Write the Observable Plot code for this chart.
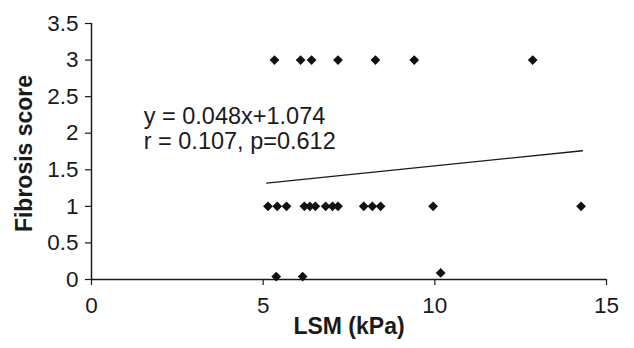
<!DOCTYPE html>
<html>
<head>
<meta charset="utf-8">
<script src="https://cdn.jsdelivr.net/npm/d3@7"></script>
<script src="https://cdn.jsdelivr.net/npm/@observablehq/plot@0.6"></script>
<style>
  html, body { margin: 0; padding: 0; background: #fff; }
  svg { display: block; }
</style>
</head>
<body>
<div id="chart"></div>
<script>
// LSM (kPa) values and fibrosis scores
const lsm = [
  5.33, 6.09, 6.41, 7.18, 8.27, 9.40, 12.85,            // score 3
  5.14, 5.41, 5.68, 6.20, 6.36, 6.52, 6.82, 7.02, 7.18,  // score 1
  7.93, 8.18, 8.42, 9.95, 14.26,
  5.38, 6.15, 10.17                                      // score 0
];
const fibrosis = [
  3, 3, 3, 3, 3, 3, 3,
  1, 1, 1, 1, 1, 1, 1, 1, 1,
  1, 1, 1, 1, 1,
  0.04, 0.04, 0.09
];
const xTicks = [0, 5, 10, 15];
const yTicks = [0, 0.5, 1, 1.5, 2, 2.5, 3, 3.5];
const yTickLabels = ["0", "0.5", "1", "1.5", "2", "2.5", "3", "3.5"];
const fitSlope = 0.048;
const fitIntercept = 1.074;
const fitRange = [5.1, 14.3];
const annotation = ["y = 0.048x+1.074", "r = 0.107, p=0.612"];
const xTitle = "LSM (kPa)";
const yTitle = "Fibrosis score";

const points = lsm.map((x, i) => ({x, y: fibrosis[i]}));
const fit = fitRange.map(x => ({x, y: fitSlope * x + fitIntercept}));

const ink = "#1a1a1a";
const chart = Plot.plot({
  width: 634,
  height: 348,
  marginLeft: 91,
  marginRight: 28,
  marginTop: 23,
  marginBottom: 69,
  style: {fontFamily: "'Liberation Sans', Arial, sans-serif", color: ink, background: "#fff"},
  x: {domain: [0, 15]},
  y: {domain: [0, 3.5]},
  marks: [
    Plot.ruleY([0], {stroke: ink, strokeWidth: 1.5}),
    Plot.ruleX([0], {stroke: ink, strokeWidth: 1.5}),
    Plot.axisX({ticks: xTicks, tickSize: 6, tickPadding: 12, fontSize: 22.5, label: null, stroke: ink, strokeWidth: 1.2}),
    Plot.axisY({ticks: yTicks, tickFormat: (d, i) => yTickLabels[i], tickSize: 6, tickPadding: 7, fontSize: 22.5, label: null, stroke: ink, strokeWidth: 1.2}),
    Plot.line(fit, {x: "x", y: "y", stroke: ink, strokeWidth: 1.3}),
    Plot.dot(points, {x: "x", y: "y", symbol: "diamond2", r: 4.4, fill: "#111", stroke: "none"}),
    Plot.text([annotation[0]], {x: 1.52, y: 2.23, text: d => d, textAnchor: "start", fontSize: 23.5, fill: ink}),
    Plot.text([annotation[1]], {x: 1.52, y: 1.89, text: d => d, textAnchor: "start", fontSize: 23.5, fill: ink}),
    Plot.text([xTitle], {frameAnchor: "bottom", dy: 54, text: d => d, fontSize: 23, fontWeight: "bold", fill: ink}),
    Plot.text([yTitle], {frameAnchor: "left", textAnchor: "middle", dx: -67, dy: 2, rotate: -90, text: d => d, fontSize: 23, fontWeight: "bold", fill: ink})
  ]
});
document.getElementById("chart").appendChild(chart);
</script>
</body>
</html>
